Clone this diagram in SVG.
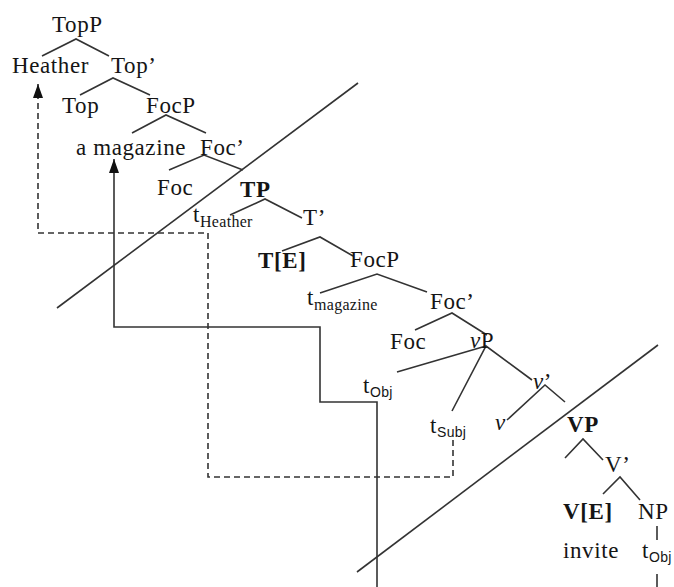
<svg xmlns="http://www.w3.org/2000/svg" width="674" height="587" viewBox="0 0 674 587">
<style>
text{font-family:"Liberation Serif","Times New Roman",serif;font-size:23px;letter-spacing:0.6px;fill:#151515}
.b{font-weight:bold}
.i{font-style:italic}
.sub{font-size:16px;letter-spacing:0.3px}
.ss{font-family:"Liberation Sans",Arial,sans-serif;font-size:14px;letter-spacing:0.3px}
.e{stroke:#333;stroke-width:1.6;fill:none}
.dash{stroke-dasharray:6 4}
</style>
<defs>
<marker id="ah" viewBox="0 0 14 10" refX="14" refY="5" markerWidth="14" markerHeight="10" markerUnits="userSpaceOnUse" orient="auto">
<path d="M0,0 L14,5 L0,10 z" fill="#111"/>
</marker>
</defs>
<rect width="674" height="587" fill="#fff"/>
<g id="connectors">
<line class="e" x1="57" y1="308" x2="358" y2="83"/>
<line class="e" x1="357" y1="572" x2="658" y2="345"/>
<path class="e" d="M42,56 L76,39 L109,56"/>
<path class="e" d="M80,95 L113,78 L150,95"/>
<path class="e" d="M132,133 L166,115 L206,133"/>
<path class="e" d="M169,170 L204,155 L243,170"/>
<path class="e" d="M230,215 L265,199 L302,218"/>
<path class="e" d="M282,251 L320,237 L353,256"/>
<path class="e" d="M320,293 L377,274 L427,292"/>
<path class="e" d="M415,330 L452,313 L487,335"/>
<path class="e" d="M397,372 L486,346 M452,411 L486,346 L532,380"/>
<path class="e" d="M507,420 L545,385 L565,402"/>
<path class="e" d="M565,458 L583,439 L603,460"/>
<path class="e" d="M603,494 L620,477 L640,500"/>
<line class="e" x1="657" y1="526" x2="657" y2="540"/>
<path class="e dash" d="M453,440 L453,477 L208,477 L208,233 L38,233 L38,84" marker-end="url(#ah)"/>
<path class="e" d="M657,574 L657,600 L377,600 L377,402 L320,402 L320,327 L114,327 L114,159" marker-end="url(#ah)"/>
</g>
<g id="n-topp"><text x="52" y="32">TopP</text></g>
<g id="n-heather"><text x="12" y="73">Heather</text></g>
<g id="n-topbar"><text x="111" y="73">Top’</text></g>
<g id="n-top"><text x="62" y="113">Top</text></g>
<g id="n-focp1"><text x="146" y="113">FocP</text></g>
<g id="n-amagazine"><text x="76" y="155">a magazine</text></g>
<g id="n-focbar1"><text x="200" y="155">Foc’</text></g>
<g id="n-foc1"><text x="157" y="195">Foc</text></g>
<g id="n-tp"><text class="b" x="240" y="197">TP</text></g>
<g id="n-theather"><text x="193" y="222">t<tspan class="sub" dy="5">Heather</tspan></text></g>
<g id="n-tbar"><text x="303" y="225">T’</text></g>
<g id="n-te"><text class="b" x="258" y="268">T[E]</text></g>
<g id="n-focp2"><text x="350" y="267">FocP</text></g>
<g id="n-tmagazine"><text x="307" y="305">t<tspan class="sub" dy="5">magazine</tspan></text></g>
<g id="n-focbar2"><text x="430" y="309">Foc’</text></g>
<g id="n-foc2"><text x="390" y="349">Foc</text></g>
<g id="n-vp"><text x="470" y="348"><tspan class="i">v</tspan>P</text></g>
<g id="n-tobj1"><text x="363" y="393">t<tspan class="ss" dy="4">Obj</tspan></text></g>
<g id="n-vbar"><text x="533" y="389"><tspan class="i">v</tspan>’</text></g>
<g id="n-tsubj"><text x="430" y="433">t<tspan class="ss" dy="4">Subj</tspan></text></g>
<g id="n-v"><text class="i" x="495" y="430">v</text></g>
<g id="n-vp2"><text class="b" x="567" y="432">VP</text></g>
<g id="n-vbar2"><text x="605" y="472">V’</text></g>
<g id="n-ve"><text class="b" x="563" y="519">V[E]</text></g>
<g id="n-np"><text x="638" y="519">NP</text></g>
<g id="n-invite"><text x="563" y="558">invite</text></g>
<g id="n-tobj2"><text x="642" y="558">t<tspan class="ss" dy="4">Obj</tspan></text></g>
</svg>
